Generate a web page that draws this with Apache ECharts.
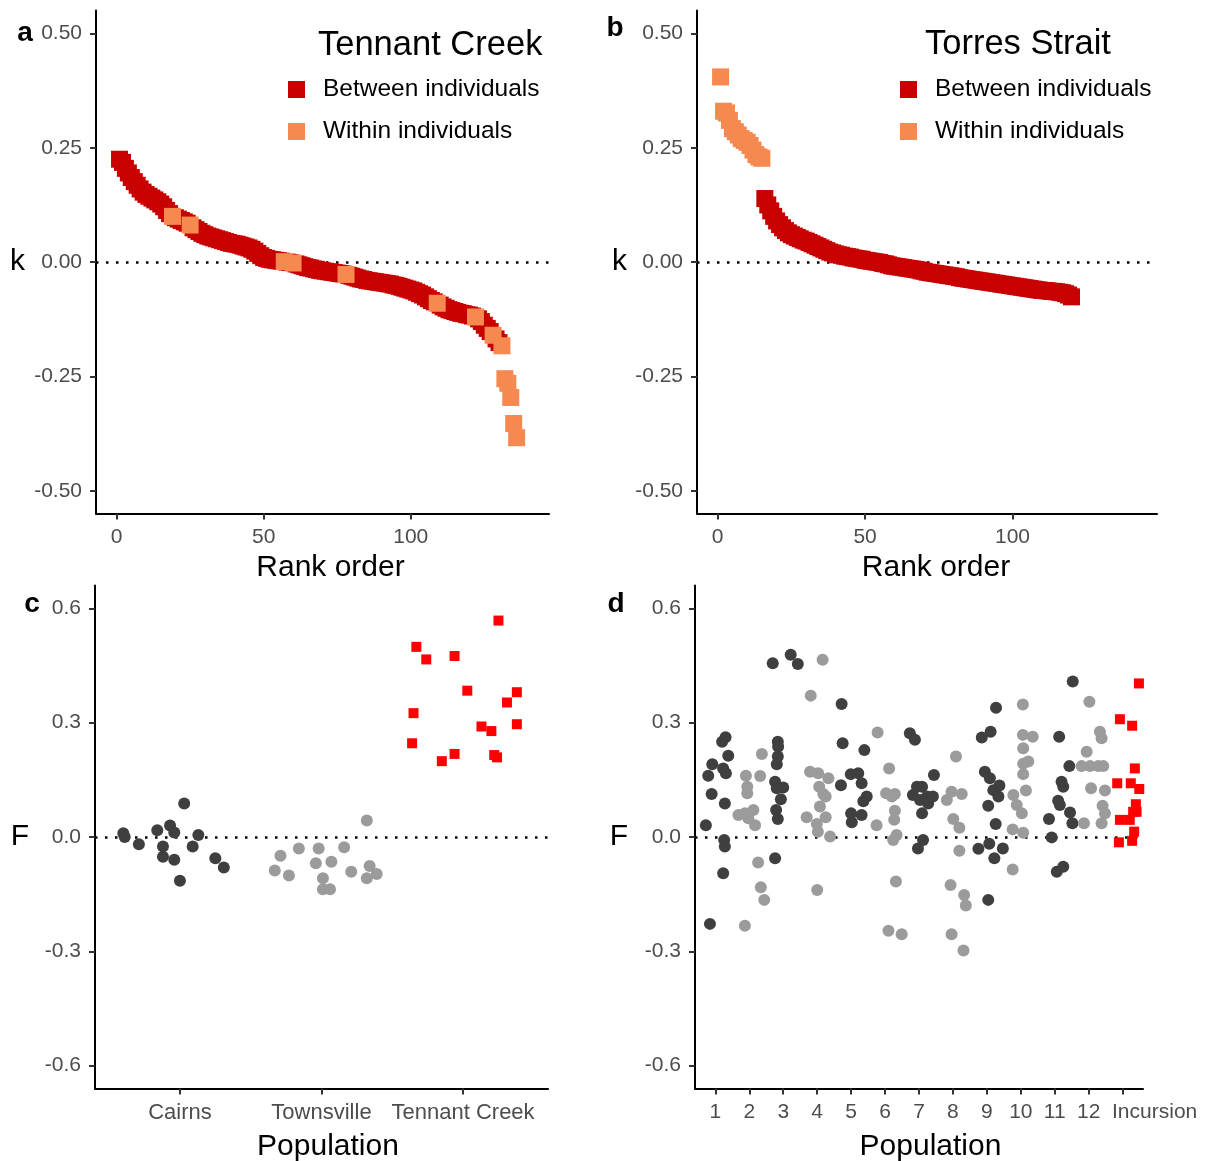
<!DOCTYPE html>
<html>
<head>
<meta charset="utf-8">
<script src="https://cdn.jsdelivr.net/npm/echarts@6/dist/echarts.min.js"></script>
<style>
html, body { margin: 0; padding: 0; background: #fff; }
#chart { width: 1219px; height: 1161px; }
</style>
</head>
<body>
<div id="chart"></div>
<script>
// panel a: k by rank order, Tennant Creek
var kTennant = [
  0.225, 0.218, 0.205, 0.195, 0.185, 0.176, 0.168, 0.160, 0.153, 0.148,
  0.144, 0.140, 0.136, 0.132, 0.127, 0.121, 0.113, 0.106, 0.100, 0.097,
  0.094, 0.091, 0.088, 0.085, 0.081, 0.075, 0.071, 0.067, 0.063, 0.060,
  0.057, 0.055, 0.053, 0.051, 0.049, 0.047, 0.045, 0.043, 0.041, 0.040,
  0.039, 0.037, 0.035, 0.033, 0.031, 0.028, 0.024, 0.019, 0.014, 0.010,
  0.008, 0.006, 0.005, 0.004, 0.003, 0.002, 0.001, 0.000, -0.001, -0.002,
  -0.004, -0.006, -0.008, -0.010, -0.012, -0.013, -0.015, -0.016, -0.018, -0.019,
  -0.020, -0.021, -0.022, -0.023, -0.024, -0.025, -0.026, -0.027, -0.029, -0.031,
  -0.033, -0.035, -0.037, -0.038, -0.040, -0.041, -0.042, -0.043, -0.044, -0.045,
  -0.046, -0.047, -0.048, -0.050, -0.051, -0.053, -0.055, -0.057, -0.059, -0.061,
  -0.063, -0.066, -0.069, -0.072, -0.076, -0.080, -0.084, -0.087, -0.090, -0.094,
  -0.098, -0.101, -0.104, -0.106, -0.108, -0.110, -0.112, -0.113, -0.115, -0.116,
  -0.118, -0.120, -0.124, -0.130, -0.138, -0.145, -0.152, -0.160, -0.168, -0.176,
  -0.183, -0.255, -0.265, -0.296, -0.353, -0.384
];
// ranks that are "Within individuals"
var withinTennant = [19, 25, 57, 60, 78, 109, 122, 128, 131, 132, 133, 134, 135, 136];

// panel b: k by rank order, Torres Strait
var kTorres = [
  0.405, 0.330, 0.326, 0.310, 0.292, 0.285, 0.278, 0.270, 0.266, 0.262,
  0.255, 0.245, 0.235, 0.230, 0.227, 0.139, 0.125, 0.112, 0.100, 0.090,
  0.082, 0.075, 0.069, 0.064, 0.060, 0.057, 0.054, 0.051, 0.048, 0.046,
  0.043, 0.040, 0.037, 0.034, 0.031, 0.028, 0.025, 0.022, 0.020, 0.018,
  0.016, 0.015, 0.013, 0.012, 0.011, 0.009, 0.008, 0.007, 0.006, 0.004,
  0.003, 0.002, 0.001, 0.000, -0.001, -0.003, -0.004, -0.006, -0.008, -0.009,
  -0.010, -0.011, -0.012, -0.013, -0.014, -0.015, -0.016, -0.017, -0.019, -0.020,
  -0.022, -0.023, -0.024, -0.025, -0.026, -0.027, -0.028, -0.029, -0.030, -0.031,
  -0.032, -0.034, -0.035, -0.036, -0.037, -0.038, -0.039, -0.040, -0.041, -0.042,
  -0.043, -0.044, -0.045, -0.046, -0.047, -0.048, -0.049, -0.050, -0.051, -0.052,
  -0.053, -0.054, -0.055, -0.056, -0.057, -0.058, -0.059, -0.060, -0.061, -0.062,
  -0.062, -0.063, -0.064, -0.064, -0.065, -0.066, -0.067, -0.069, -0.072, -0.076
];
var withinTorres = [1, 2, 3, 4, 5, 6, 7, 8, 9, 10, 11, 12, 13, 14, 15];

// panel c: [jittered position, F]
var cPopNames = ['Cairns', 'Townsville', 'Tennant Creek'];
var cairns = [[0.60, 0.010], [0.61, 0.000], [0.71, -0.019], [0.84, 0.018], [0.93, 0.030],
  [0.96, 0.012], [1.03, 0.088], [0.88, -0.025], [0.88, -0.052], [0.96, -0.060],
  [1.00, -0.115], [1.09, -0.025], [1.13, 0.005], [1.25, -0.056], [1.31, -0.080]];
var townsville = [[1.71, -0.049], [1.67, -0.088], [1.77, -0.101], [1.84, -0.030], [1.98, -0.030],
  [1.96, -0.069], [2.07, -0.065], [2.01, -0.108], [2.01, -0.137], [2.06, -0.137],
  [2.16, -0.027], [2.21, -0.091], [2.32, 0.043], [2.34, -0.076], [2.39, -0.097], [2.32, -0.108]];
var tennantF = [[2.67, 0.499], [2.74, 0.466], [2.94, 0.475], [3.25, 0.568], [3.03, 0.384],
  [3.38, 0.380], [3.31, 0.353], [2.65, 0.325], [3.13, 0.290], [3.20, 0.278],
  [3.38, 0.296], [2.64, 0.246], [2.85, 0.199], [2.94, 0.218], [3.22, 0.215], [3.24, 0.209]];

// panel d: [jittered position, F] per population
var dPopLabels = ['1', '2', '3', '4', '5', '6', '7', '8', '9', '10', '11', '12', 'Incursion'];
var pop1 = [[0.72, 0.031], [0.79, 0.161], [0.89, 0.113], [0.91, 0.191], [0.84, -0.228], [1.20, 0.250],
  [1.30, 0.262], [1.23, 0.180], [1.31, 0.167], [1.38, 0.213], [1.28, 0.088], [1.26, -0.008],
  [1.28, -0.025], [1.23, -0.095]];
var pop2 = [[1.87, -0.233], [1.90, 0.161], [1.94, 0.132], [1.94, 0.115], [1.68, 0.058], [1.87, 0.062],
  [1.97, 0.049], [2.12, 0.071], [2.17, 0.031], [2.32, 0.160], [2.37, 0.218], [2.26, -0.067],
  [2.34, -0.132], [2.44, -0.165]];
var pop3 = [[2.69, 0.456], [3.22, 0.478], [3.43, 0.454], [2.84, 0.250], [2.85, 0.237], [2.84, 0.211],
  [2.81, 0.191], [2.76, 0.145], [2.81, 0.128], [3.00, 0.130], [2.93, 0.099], [2.79, 0.071],
  [2.84, 0.047], [2.76, -0.056]];
var pop4 = [[4.16, 0.465], [3.81, 0.371], [3.79, 0.171], [4.03, 0.167], [4.33, 0.154], [4.06, 0.132],
  [4.18, 0.113], [4.25, 0.106], [4.08, 0.080], [3.69, 0.052], [4.25, 0.052], [3.99, 0.034],
  [4.02, 0.014], [4.38, 0.001], [4.00, -0.139]];
var pop5 = [[4.72, 0.349], [4.75, 0.246], [5.39, 0.228], [4.70, 0.136], [4.99, 0.165], [5.21, 0.167],
  [5.31, 0.141], [5.36, 0.094], [5.46, 0.106], [5.00, 0.062], [5.02, 0.039], [5.31, 0.058]];
var pop6 = [[5.78, 0.274], [5.75, 0.031], [6.12, 0.180], [6.03, 0.115], [6.29, 0.113], [6.20, 0.106],
  [6.29, 0.069], [6.27, 0.045], [6.34, 0.005], [6.24, -0.008], [6.32, -0.117], [6.10, -0.246],
  [6.49, -0.255]];
var pop7 = [[6.73, 0.272], [6.88, 0.255], [6.94, 0.132], [7.09, 0.132], [6.82, 0.110], [7.03, 0.097],
  [7.24, 0.106], [7.41, 0.106], [7.27, 0.088], [7.09, 0.062], [7.44, 0.163], [7.12, -0.008],
  [6.97, -0.030]];
var pop8 = [[8.09, 0.211], [7.96, 0.119], [7.82, 0.097], [8.26, 0.113], [8.01, 0.047], [8.19, 0.024],
  [8.19, -0.036], [7.93, -0.126], [8.33, -0.152], [8.38, -0.180], [7.96, -0.255], [8.31, -0.298]];
var pop9 = [[9.27, 0.339], [8.85, 0.261], [9.11, 0.276], [8.94, 0.171], [9.09, 0.154], [9.19, 0.123],
  [9.37, 0.135], [9.34, 0.106], [9.04, 0.082], [9.26, 0.034], [8.75, -0.031], [9.07, -0.018],
  [9.22, -0.056], [9.47, -0.030], [9.04, -0.165]];
var pop10 = [[10.06, 0.348], [10.06, 0.268], [10.35, 0.263], [10.07, 0.233], [10.22, 0.198],
  [10.07, 0.192], [10.07, 0.165], [10.15, 0.122], [9.78, 0.110], [9.88, 0.084], [10.03, 0.062],
  [9.76, 0.020], [10.07, 0.011], [9.76, -0.085]];
var pop11 = [[11.53, 0.408], [11.13, 0.263], [11.43, 0.186], [11.20, 0.145], [11.25, 0.132],
  [11.10, 0.095], [11.15, 0.084], [11.45, 0.064], [11.52, 0.036], [10.83, 0.047], [10.91, -0.001],
  [11.06, -0.091], [11.25, -0.078]];
var pop12 = [[12.02, 0.355], [12.33, 0.276], [12.38, 0.259], [11.94, 0.224], [11.79, 0.186],
  [12.04, 0.186], [12.28, 0.186], [12.43, 0.186], [12.07, 0.128], [12.48, 0.122], [12.41, 0.082],
  [12.48, 0.062], [11.86, 0.036], [12.38, 0.036]];
var incursion = [[13.48, 0.403], [12.92, 0.309], [13.28, 0.292], [13.36, 0.180], [12.84, 0.141],
  [13.24, 0.141], [13.49, 0.126], [13.39, 0.086], [13.31, 0.066], [13.41, 0.066], [12.92, 0.045],
  [13.21, 0.045], [13.34, 0.014], [13.28, -0.010], [12.89, -0.014]];

var FONT = "'Liberation Sans', Arial, Helvetica, sans-serif";
var BETWEEN = '#c80000', WITHIN = '#f5894f';
var DARK = '#3f3f3f', LIGHT = '#9b9b9b', RED = '#ff0000';

function byRank(values, within, keepWithin) {
  var out = [];
  values.forEach(function (v, i) {
    var isW = within.indexOf(i + 1) >= 0;
    if (isW === keepWithin) out.push([i + 1, v]);
  });
  return out;
}

var zeroLine = {
  silent: true, symbol: 'none', z: 1, animation: false,
  label: { show: false },
  lineStyle: { type: [2.5, 7.5], width: 2.5, color: '#000' },
  data: [{ yAxis: 0 }]
};

function axisBase(grid, min, max, ticks, fmt, size) {
  return {
    type: 'value', gridIndex: grid, min: min, max: max,
    splitLine: { show: false },
    axisLine: { show: true, onZero: false, lineStyle: { color: '#000', width: 2 } },
    axisTick: { show: true, length: 6, customValues: ticks, lineStyle: { color: '#333', width: 2 } },
    axisLabel: { customValues: ticks, formatter: fmt, fontFamily: FONT, fontSize: size, color: '#4d4d4d', margin: 13 }
  };
}

function xAxisDef(grid, min, max, ticks, fmt, pad, size) {
  var a = axisBase(grid, min, max, ticks, fmt, size);
  a.name = grid < 2 ? 'Rank order' : 'Population';
  a.nameLocation = 'middle';
  a.nameGap = grid < 2 ? 39 : 43;
  a.nameTextStyle = { fontFamily: FONT, fontSize: 30, color: '#000', padding: [0, 0, 0, pad] };
  return a;
}

function yAxisDef(grid, min, max, ticks, digits, name, gap) {
  var a = axisBase(grid, min, max, ticks, function (v) { return v.toFixed(digits); }, 21);
  a.axisLabel.margin = 14;
  a.name = name;
  a.nameLocation = 'middle';
  a.nameRotate = 0;
  a.nameGap = gap;
  a.nameTextStyle = { fontFamily: FONT, fontSize: 30, color: '#000' };
  return a;
}

function pointSeries(name, grid, symbol, size, color, data) {
  return {
    type: 'scatter', name: name, xAxisIndex: grid, yAxisIndex: grid,
    symbol: symbol, symbolSize: size,
    itemStyle: { color: color, opacity: 1 },
    data: data
  };
}

var chart = echarts.init(document.getElementById('chart'));

var legendBase = {
  orient: 'vertical', padding: 0, itemWidth: 17, itemHeight: 17, itemGap: 17, icon: 'rect',
  itemStyle: { opacity: 1 },
  textStyle: { fontFamily: FONT, fontSize: 24.5, color: '#000', lineHeight: 25, padding: [0, 0, 0, 13] },
  data: ['Between individuals', 'Within individuals'], selectedMode: false
};

var option = {
  animation: false,
  backgroundColor: '#fff',
  grid: [
    { left: 96, top: 10.6, width: 453, height: 503, outerBoundsMode: 'none' },
    { left: 697, top: 10.6, width: 460, height: 503, outerBoundsMode: 'none' },
    { left: 95, top: 585.5, width: 453, height: 503, outerBoundsMode: 'none' },
    { left: 695, top: 585.5, width: 448, height: 503, outerBoundsMode: 'none' }
  ],
  xAxis: [
    xAxisDef(0, -7, 147, [0, 50, 100], function (v) { return String(v); }, 16, 21),
    xAxisDef(1, -7, 149, [0, 50, 100], function (v) { return String(v); }, 18, 21),
    xAxisDef(2, 0.4, 3.6, [1, 2, 3], function (v) { return cPopNames[Math.round(v) - 1]; }, 13, 22),
    xAxisDef(3, 0.4, 13.6, [1, 2, 3, 4, 5, 6, 7, 8, 9, 10, 11, 12, 13], function (v) {
      var s = dPopLabels[Math.round(v) - 1];
      return v === 13 ? '{inc|' + s + '}' : s;
    }, 23, 21)
  ],
  yAxis: [
    yAxisDef(0, -0.55, 0.55, [-0.5, -0.25, 0, 0.25, 0.5], 2, 'k', 71),
    yAxisDef(1, -0.55, 0.55, [-0.5, -0.25, 0, 0.25, 0.5], 2, 'k', 70),
    yAxisDef(2, -0.66, 0.66, [-0.6, -0.3, 0, 0.3, 0.6], 1, 'F', 66),
    yAxisDef(3, -0.66, 0.66, [-0.6, -0.3, 0, 0.3, 0.6], 1, 'F', 67)
  ],
  legend: [
    Object.assign({}, legendBase, { left: 288, top: 77 }),
    Object.assign({}, legendBase, { left: 900, top: 77 })
  ],
  graphic: [
    { type: 'text', x: 25, y: 33, style: { text: 'a', font: 'bold 28px ' + FONT, fill: '#000', textAlign: 'center', textVerticalAlign: 'middle' } },
    { type: 'text', x: 615, y: 28, style: { text: 'b', font: 'bold 28px ' + FONT, fill: '#000', textAlign: 'center', textVerticalAlign: 'middle' } },
    { type: 'text', x: 32, y: 604, style: { text: 'c', font: 'bold 28px ' + FONT, fill: '#000', textAlign: 'center', textVerticalAlign: 'middle' } },
    { type: 'text', x: 616, y: 604, style: { text: 'd', font: 'bold 28px ' + FONT, fill: '#000', textAlign: 'center', textVerticalAlign: 'middle' } },
    { type: 'text', x: 318, y: 45, style: { text: 'Tennant Creek', font: '34.5px ' + FONT, fill: '#000', textAlign: 'left', textVerticalAlign: 'middle' } },
    { type: 'text', x: 925, y: 44, style: { text: 'Torres Strait', font: '34.5px ' + FONT, fill: '#000', textAlign: 'left', textVerticalAlign: 'middle' } }
  ],
  series: [
    Object.assign(pointSeries('Between individuals', 0, 'rect', 17, BETWEEN, byRank(kTennant, withinTennant, false)), { markLine: zeroLine }),
    pointSeries('Within individuals', 0, 'rect', 17, WITHIN, byRank(kTennant, withinTennant, true)),
    Object.assign(pointSeries('Between individuals', 1, 'rect', 17, BETWEEN, byRank(kTorres, withinTorres, false)), { markLine: zeroLine }),
    pointSeries('Within individuals', 1, 'rect', 17, WITHIN, byRank(kTorres, withinTorres, true)),
    Object.assign(pointSeries('Cairns', 2, 'circle', 12, DARK, cairns), { markLine: zeroLine }),
    pointSeries('Townsville', 2, 'circle', 12, LIGHT, townsville),
    pointSeries('Tennant Creek', 2, 'rect', 10, RED, tennantF),
    Object.assign(pointSeries('Odd populations', 3, 'circle', 12, DARK, [].concat(pop1, pop3, pop5, pop7, pop9, pop11)), { markLine: zeroLine }),
    pointSeries('Even populations', 3, 'circle', 12, LIGHT, [].concat(pop2, pop4, pop6, pop8, pop10, pop12)),
    pointSeries('Incursion', 3, 'rect', 10, RED, incursion)
  ]
};

option.xAxis[3].axisLabel.rich = {
  inc: { fontFamily: FONT, fontSize: 21, color: '#4d4d4d', padding: [0, 0, 0, 64] }
};

chart.setOption(option);
</script>
</body>
</html>
